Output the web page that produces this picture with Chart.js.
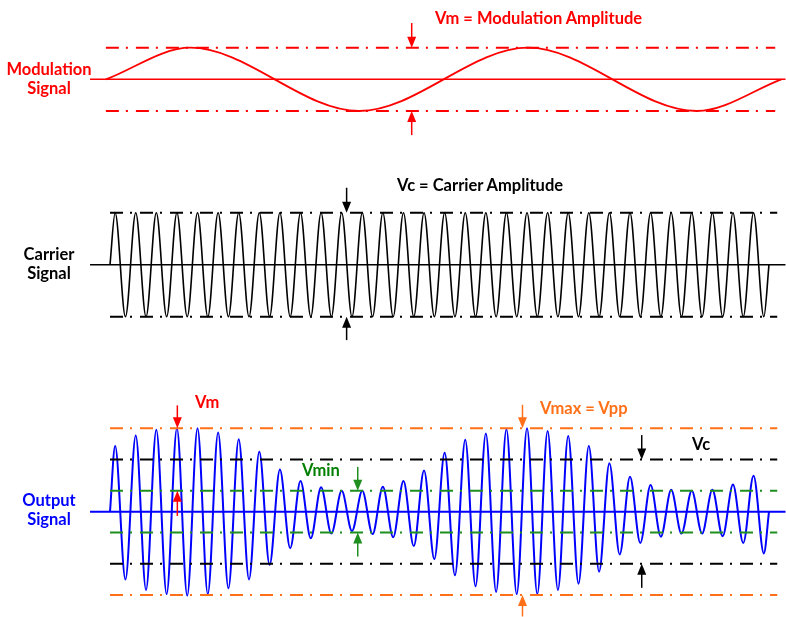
<!DOCTYPE html>
<html>
<head>
<meta charset="utf-8">
<script src="https://cdn.jsdelivr.net/npm/chart.js@4.4.1/dist/chart.umd.min.js"></script>
<style>
  html, body { margin: 0; padding: 0; background: #fff; }
  body { width: 786px; height: 617px; position: relative; overflow: hidden;
         font-family: Lato, "Open Sans", sans-serif; font-weight: 700; }
  .panel { position: absolute; left: 0; width: 786px; }
  .lbl { position: absolute; font-size: 16.5px; line-height: 19px; white-space: nowrap; }
  .side { left: 0; width: 98px; text-align: center; }
</style>
</head>
<body>
<div class="panel" style="top:0;height:160px"><canvas id="modChart"></canvas></div>
<div class="panel" style="top:160px;height:220px"><canvas id="carrierChart"></canvas></div>
<div class="panel" style="top:380px;height:237px"><canvas id="outputChart"></canvas></div>

<div class="lbl side" style="top:60px;color:#ff0000">Modulation<br>Signal</div>
<div class="lbl side" style="top:245px;color:#000">Carrier<br>Signal</div>
<div class="lbl side" style="top:491px;color:#0000ff">Output<br>Signal</div>
<div class="lbl" style="left:435px;top:9px;color:#ff0000">Vm = Modulation Amplitude</div>
<div class="lbl" style="left:397px;top:176px;color:#000">Vc = Carrier Amplitude</div>
<div class="lbl" style="left:195px;top:393px;color:#ff0000">Vm</div>
<div class="lbl" style="left:302px;top:461px;color:#008000">Vmin</div>
<div class="lbl" style="left:540px;top:399px;color:#ff7019">Vmax = Vpp</div>
<div class="lbl" style="left:692px;top:435px;color:#000">Vc</div>

<script>
// time axis is in carrier periods, 32 of them across the plot
const CYCLES = 32;

// modulation signal: zero ends and its two peaks / two troughs
const modTimes = [-0.2, 3.9, 12.1, 20.3, 28.5, 32.6];
const modValues = [0, 1, -1, 1, -1, 0];

// carrier: peak, trough, peak, trough ... (one pair per period)
const carrierExtremes = [
  1, -1, 1, -1, 1, -1, 1, -1, 1, -1, 1, -1, 1, -1, 1, -1,
  1, -1, 1, -1, 1, -1, 1, -1, 1, -1, 1, -1, 1, -1, 1, -1,
  1, -1, 1, -1, 1, -1, 1, -1, 1, -1, 1, -1, 1, -1, 1, -1,
  1, -1, 1, -1, 1, -1, 1, -1, 1, -1, 1, -1, 1, -1, 1, -1
];

// output (AM) signal, in units of Vc, one peak and one trough per period
const outputPeaks = [
  1.26, 1.46, 1.57, 1.60, 1.60, 1.52, 1.39, 1.15,
  0.81, 0.59, 0.47, 0.40, 0.40, 0.48, 0.59, 0.79,
  1.13, 1.38, 1.50, 1.58, 1.60, 1.55, 1.45, 1.26,
  0.93, 0.67, 0.51, 0.42, 0.40, 0.42, 0.52, 0.69
];
const outputTroughs = [
  -1.30, -1.50, -1.58, -1.61, -1.58, -1.47, -1.30, -1.02,
  -0.70, -0.51, -0.42, -0.37, -0.43, -0.49, -0.66, -0.91,
  -1.22, -1.43, -1.54, -1.58, -1.58, -1.50, -1.38, -1.15,
  -0.82, -0.60, -0.48, -0.42, -0.42, -0.47, -0.60, -0.80
];

// reference levels of the output panel
const vMax = 1.6;
const vCarrier = 1.0;
const vMin = 0.4;

const RED = "#ff0000";
const ORANGE = "#ff7019";
const GREEN = "#1f8f1f";
const BLUE = "#0000ff";
const BLACK = "#000000";
const DASHDOT = [13, 7, 2, 8];

// extremes sit a quarter period apart from the zero ends, half a period apart from each other
function wave(extremes) {
  const pts = [{ x: 0, y: 0 }];
  extremes.forEach((v, k) => pts.push({ x: 0.25 + 0.5 * k, y: v }));
  pts.push({ x: CYCLES, y: 0 });
  return pts;
}

function level(y, color, from = 0, to = 32.4) {
  return {
    data: [{ x: from, y }, { x: to, y }],
    borderColor: color, borderWidth: 2, borderDash: DASHDOT,
    pointRadius: 0, clip: false
  };
}

function axisLine(color, width) {
  return {
    data: [{ x: -0.97, y: 0 }, { x: 32.8, y: 0 }],
    borderColor: color, borderWidth: width, pointRadius: 0, clip: false
  };
}

function curve(points, color, width) {
  return {
    data: points, borderColor: color, borderWidth: width,
    pointRadius: 0, cubicInterpolationMode: "monotone", clip: false
  };
}

const arrowPlugin = {
  id: "arrows",
  afterDatasetsDraw(chart, args, opts) {
    const { ctx, scales: { x, y } } = chart;
    (opts.list || []).forEach(a => {
      const px = x.getPixelForValue(a.x);
      const y0 = y.getPixelForValue(a.from);
      const y1 = y.getPixelForValue(a.to);
      const dir = Math.sign(y1 - y0);
      ctx.save();
      ctx.strokeStyle = a.color;
      ctx.fillStyle = a.color;
      ctx.lineWidth = 1.5;
      ctx.beginPath();
      ctx.moveTo(px, y0);
      ctx.lineTo(px, y1 - dir * 9);
      ctx.stroke();
      ctx.beginPath();
      ctx.moveTo(px, y1);
      ctx.lineTo(px - 4.5, y1 - dir * 11);
      ctx.lineTo(px + 4.5, y1 - dir * 11);
      ctx.closePath();
      ctx.fill();
      ctx.restore();
    });
  }
};

function makePanel(id, datasets, yRange, pad, arrows) {
  return new Chart(document.getElementById(id), {
    type: "line",
    data: { datasets },
    options: {
      responsive: true,
      maintainAspectRatio: false,
      animation: false,
      events: [],
      layout: { padding: { left: 110, right: 17, top: pad[0], bottom: pad[1] } },
      scales: {
        x: { type: "linear", min: 0, max: CYCLES, display: false },
        y: { min: -yRange, max: yRange, display: false }
      },
      plugins: {
        legend: { display: false },
        tooltip: { enabled: false },
        arrows: { list: arrows }
      }
    },
    plugins: [arrowPlugin]
  });
}

// Modulation
makePanel("modChart", [
  level(1, RED, -0.2, 32.3),
  level(-1, RED, -0.2, 32.3),
  axisLine(RED, 1.5),
  curve(modTimes.map((t, i) => ({ x: t, y: modValues[i] })), RED, 1.8)
], 1, [47.7, 49], [
  { x: 14.65, from: 1.78, to: 1, color: RED },
  { x: 14.65, from: -1.76, to: -1, color: RED }
]);

// Carrier
makePanel("carrierChart", [
  level(1, BLACK),
  level(-1, BLACK),
  axisLine(BLACK, 1.5),
  curve(wave(carrierExtremes), BLACK, 1.6)
], 1, [52.7, 63.3], [
  { x: 11.49, from: 1.48, to: 1, color: BLACK },
  { x: 11.49, from: -1.45, to: -1, color: BLACK }
]);

// Output
const outputExtremes = [];
outputPeaks.forEach((p, i) => outputExtremes.push(p, outputTroughs[i]));

makePanel("outputChart", [
  level(vMax, ORANGE), level(-vMax, ORANGE),
  level(vCarrier, BLACK), level(-vCarrier, BLACK),
  level(vMin, GREEN), level(-vMin, GREEN),
  axisLine(BLUE, 2),
  curve(wave(outputExtremes), BLUE, 2)
], vMax, [48.3, 21.9], [
  { x: 3.27, from: 2.04, to: vMax, color: RED },
  { x: 3.27, from: -0.08, to: vMin, color: RED },
  { x: 12.03, from: 0.86, to: vMin, color: GREEN },
  { x: 12.03, from: -0.86, to: -vMin, color: GREEN },
  { x: 20.03, from: 2.05, to: vMax, color: ORANGE },
  { x: 20.03, from: -2.01, to: -vMax, color: ORANGE },
  { x: 25.82, from: 1.47, to: vCarrier, color: BLACK },
  { x: 25.82, from: -1.46, to: -vCarrier, color: BLACK }
]);
</script>
</body>
</html>
